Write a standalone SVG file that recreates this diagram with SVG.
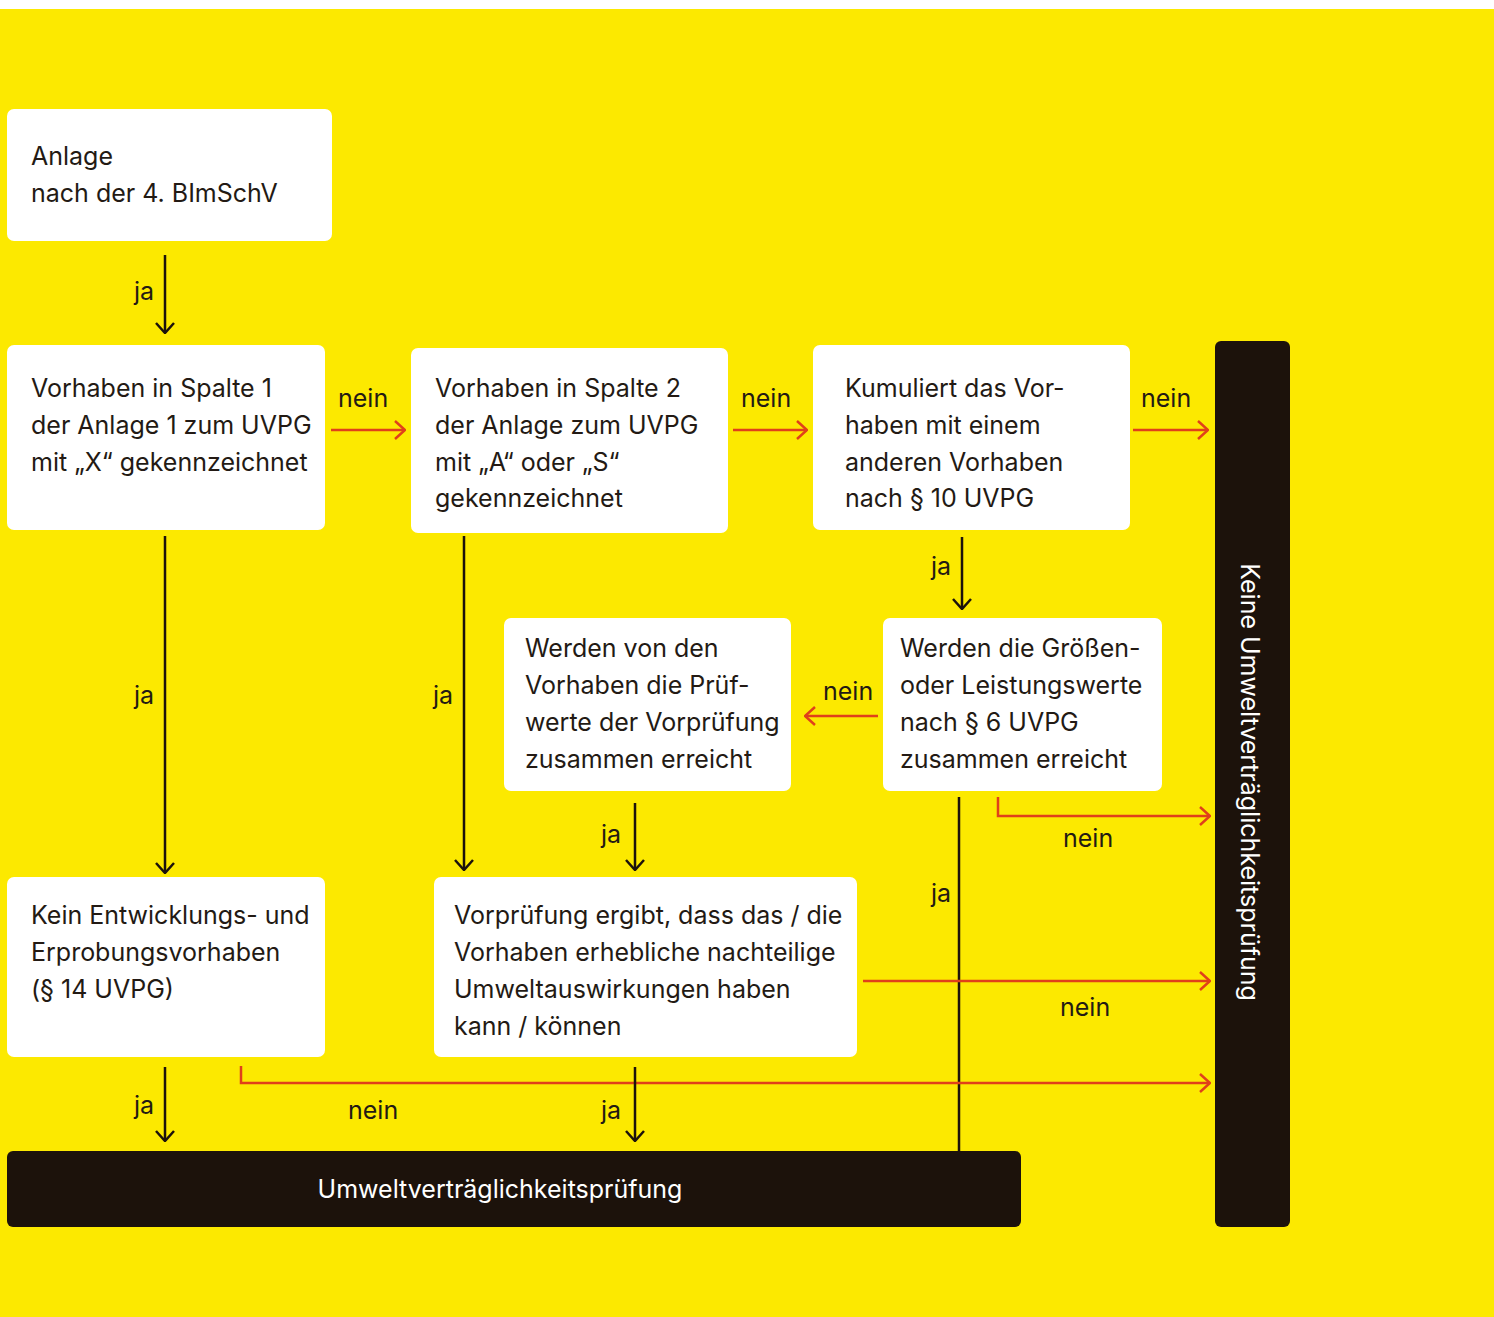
<svg xmlns="http://www.w3.org/2000/svg" width="1494" height="1317" viewBox="0 0 1494 1317">
<defs>
<style>
.bg{fill:#FCE900}
.box{fill:#FFFFFF}
.dark{fill:#1C120B}
.t{font-family:Inter,"Noto Sans","Liberation Sans",sans-serif;font-size:25px;fill:#231A14}
.w{fill:#FFFFFF}
.blk{stroke:#1C120B;stroke-width:2.5;fill:none}
.red{stroke:#E0401A;stroke-width:2.5;fill:none}
</style>
<marker id="ab" viewBox="0 0 12 20" refX="11" refY="10" markerWidth="12" markerHeight="20" markerUnits="userSpaceOnUse" orient="auto"><path d="M1,1 L11,10 L1,19" fill="none" stroke="#1C120B" stroke-width="2.5"/></marker>
<marker id="ar" viewBox="0 0 12 20" refX="11" refY="10" markerWidth="12" markerHeight="20" markerUnits="userSpaceOnUse" orient="auto"><path d="M1,1 L11,10 L1,19" fill="none" stroke="#E0401A" stroke-width="2.5"/></marker>
</defs>
<rect x="0" y="0" width="1494" height="1317" fill="#FFFFFF"/>
<rect class="bg" x="0" y="9" width="1494" height="1308"/>

<g id="connectors">
<line class="blk" x1="165" y1="255" x2="165" y2="333" marker-end="url(#ab)"/>
<line class="red" x1="331" y1="430" x2="405" y2="430" marker-end="url(#ar)"/>
<line class="red" x1="733" y1="430" x2="807" y2="430" marker-end="url(#ar)"/>
<line class="red" x1="1133" y1="430" x2="1208" y2="430" marker-end="url(#ar)"/>
<line class="blk" x1="962" y1="537" x2="962" y2="609" marker-end="url(#ab)"/>
<line class="red" x1="878" y1="716" x2="805" y2="716" marker-end="url(#ar)"/>
<polyline class="red" points="998,797 998,816 1210,816" marker-end="url(#ar)"/>
<line class="blk" x1="959" y1="797" x2="959" y2="1152"/>
<line class="blk" x1="635" y1="803" x2="635" y2="870" marker-end="url(#ab)"/>
<line class="blk" x1="165" y1="536" x2="165" y2="873" marker-end="url(#ab)"/>
<line class="blk" x1="464" y1="536" x2="464" y2="870" marker-end="url(#ab)"/>
<line class="red" x1="863" y1="981" x2="1210" y2="981" marker-end="url(#ar)"/>
<line class="blk" x1="165" y1="1067" x2="165" y2="1141" marker-end="url(#ab)"/>
<polyline class="red" points="241,1066 241,1083 1210,1083" marker-end="url(#ar)"/>
<line class="blk" x1="635" y1="1067" x2="635" y2="1141" marker-end="url(#ab)"/>
<g class="t">
<text x="134" y="300">ja</text>
<text x="338" y="407">nein</text>
<text x="741" y="407">nein</text>
<text x="1141" y="407">nein</text>
<text x="931" y="575">ja</text>
<text x="823" y="700">nein</text>
<text x="1063" y="847">nein</text>
<text x="931" y="902">ja</text>
<text x="601" y="843">ja</text>
<text x="134" y="704">ja</text>
<text x="433" y="704">ja</text>
<text x="1060" y="1016">nein</text>
<text x="134" y="1114">ja</text>
<text x="348" y="1119">nein</text>
<text x="601" y="1119">ja</text>
</g>
</g>

<g id="n1">
<rect class="box" x="7" y="109" width="325" height="132" rx="7"/>
<text class="t" x="31" y="165">Anlage</text>
<text class="t" x="31" y="202">nach der 4. BImSchV</text>
</g>
<g id="n2">
<rect class="box" x="7" y="345" width="318" height="185" rx="7"/>
<text class="t" x="31" y="397">Vorhaben in Spalte 1</text>
<text class="t" x="31" y="434">der Anlage 1 zum UVPG</text>
<text class="t" x="31" y="471">mit „X“ gekennzeichnet</text>
</g>
<g id="n3">
<rect class="box" x="411" y="348" width="317" height="185" rx="7"/>
<text class="t" x="435" y="397">Vorhaben in Spalte 2</text>
<text class="t" x="435" y="434">der Anlage zum UVPG</text>
<text class="t" x="435" y="471">mit „A“ oder „S“</text>
<text class="t" x="435" y="507">gekennzeichnet</text>
</g>
<g id="n4">
<rect class="box" x="813" y="345" width="317" height="185" rx="7"/>
<text class="t" x="845" y="397">Kumuliert das Vor-</text>
<text class="t" x="845" y="434">haben mit einem</text>
<text class="t" x="845" y="471">anderen Vorhaben</text>
<text class="t" x="845" y="507">nach § 10 UVPG</text>
</g>
<g id="n5">
<rect class="box" x="504" y="618" width="287" height="173" rx="7"/>
<text class="t" x="525" y="657">Werden von den</text>
<text class="t" x="525" y="694">Vorhaben die Prüf-</text>
<text class="t" x="525" y="731">werte der Vorprüfung</text>
<text class="t" x="525" y="768">zusammen erreicht</text>
</g>
<g id="n6">
<rect class="box" x="883" y="618" width="279" height="173" rx="7"/>
<text class="t" x="900" y="657">Werden die Größen-</text>
<text class="t" x="900" y="694">oder Leistungswerte</text>
<text class="t" x="900" y="731">nach § 6 UVPG</text>
<text class="t" x="900" y="768">zusammen erreicht</text>
</g>
<g id="n7">
<rect class="box" x="7" y="877" width="318" height="180" rx="7"/>
<text class="t" x="31" y="924">Kein Entwicklungs- und</text>
<text class="t" x="31" y="961">Erprobungsvorhaben</text>
<text class="t" x="31" y="998">(§ 14 UVPG)</text>
</g>
<g id="n8">
<rect class="box" x="434" y="877" width="423" height="180" rx="7"/>
<text class="t" x="454" y="924">Vorprüfung ergibt, dass das / die</text>
<text class="t" x="454" y="961">Vorhaben erhebliche nachteilige</text>
<text class="t" x="454" y="998">Umweltauswirkungen haben</text>
<text class="t" x="454" y="1035">kann / können</text>
</g>
<g id="n9">
<rect class="dark" x="7" y="1151" width="1014" height="76" rx="6"/>
<text class="t w" x="500" y="1198" text-anchor="middle">Umweltverträglichkeitsprüfung</text>
</g>
<g id="n10">
<rect class="dark" x="1215" y="341" width="75" height="886" rx="6"/>
<text class="t w" transform="translate(1241,782) rotate(90)" text-anchor="middle">Keine Umweltverträglichkeitsprüfung</text>
</g>
</svg>
